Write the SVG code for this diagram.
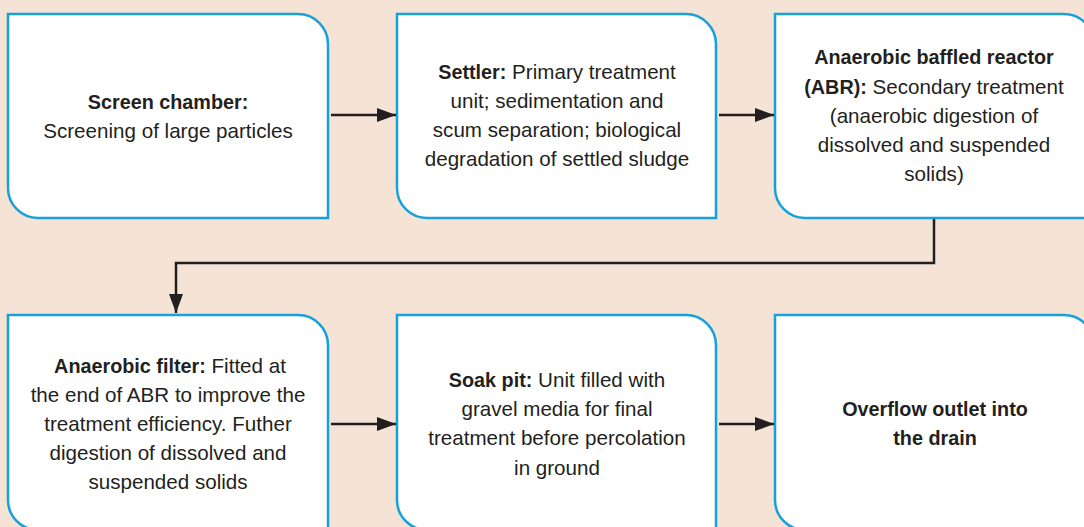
<svg xmlns="http://www.w3.org/2000/svg" width="1084" height="527" viewBox="0 0 1084 527">
<defs>
<style>
.box{fill:#ffffff;stroke:#16a0dc;stroke-width:2.5}
.t{font-family:"Liberation Sans",Arial,sans-serif;font-size:20.6px;fill:#231f20;text-anchor:middle}
.b{font-weight:bold;font-size:19.8px}
.c{fill:none;stroke:#231f20;stroke-width:2.5}
</style>
<marker id="ah" markerWidth="19" markerHeight="14" refX="19" refY="7" orient="auto" markerUnits="userSpaceOnUse">
<path d="M0,0 L19,7 L0,14 Z" fill="#231f20"/>
</marker>
</defs>
<rect width="1084" height="527" fill="#f5e4d5"/>
<g id="n1">
<path class="box" d="M8,14 H298 A30,30 0 0 1 328,44 V218 H38 A30,30 0 0 1 8,188 Z"/>
<text class="t" x="168" y="109"><tspan class="b">Screen chamber:</tspan><tspan x="168" y="138">Screening of large particles</tspan></text>
</g>
<g id="n2">
<path class="box" d="M397,14 H686 A30,30 0 0 1 716,44 V218 H427 A30,30 0 0 1 397,188 Z"/>
<text class="t" y="79"><tspan x="557" class="b">Settler:</tspan> Primary treatment<tspan x="557" y="108">unit; sedimentation and</tspan><tspan x="557" y="137">scum separation; biological</tspan><tspan x="557" y="166">degradation of settled sludge</tspan></text>
</g>
<g id="n3">
<path class="box" d="M775,14 H1064 A30,30 0 0 1 1094,44 V218 H805 A30,30 0 0 1 775,188 Z"/>
<text class="t" y="64"><tspan x="934" class="b">Anaerobic baffled reactor</tspan><tspan x="934" y="93.5"><tspan class="b">(ABR):</tspan> Secondary treatment</tspan><tspan x="934" y="123">(anaerobic digestion of</tspan><tspan x="934" y="152">dissolved and suspended</tspan><tspan x="934" y="181">solids)</tspan></text>
</g>
<g id="n4">
<path class="box" d="M8,315 H298 A30,30 0 0 1 328,345 V530 H38 A30,30 0 0 1 8,500 Z"/>
<text class="t" y="373"><tspan x="170" class="b">Anaerobic filter:</tspan> Fitted at<tspan x="168" y="402">the end of ABR to improve the</tspan><tspan x="168" y="431">treatment efficiency. Futher</tspan><tspan x="168" y="460">digestion of dissolved and</tspan><tspan x="168" y="489">suspended solids</tspan></text>
</g>
<g id="n5">
<path class="box" d="M397,315 H686 A30,30 0 0 1 716,345 V530 H427 A30,30 0 0 1 397,500 Z"/>
<text class="t" y="387"><tspan x="557" class="b">Soak pit:</tspan> Unit filled with<tspan x="557" y="416">gravel media for final</tspan><tspan x="557" y="445">treatment before percolation</tspan><tspan x="557" y="475">in ground</tspan></text>
</g>
<g id="n6">
<path class="box" d="M775,315 H1064 A30,30 0 0 1 1094,345 V530 H805 A30,30 0 0 1 775,500 Z"/>
<text class="t b" y="416"><tspan x="935">Overflow outlet into</tspan><tspan x="935" y="445">the drain</tspan></text>
</g>
<g id="connectors">
<line class="c" x1="331" y1="115" x2="396" y2="115" marker-end="url(#ah)"/>
<line class="c" x1="719" y1="115" x2="774" y2="115" marker-end="url(#ah)"/>
<path class="c" d="M934,219 V263 H176 V313" marker-end="url(#ah)"/>
<line class="c" x1="331" y1="424" x2="396" y2="424" marker-end="url(#ah)"/>
<line class="c" x1="719" y1="424" x2="774" y2="424" marker-end="url(#ah)"/>
</g>
</svg>
